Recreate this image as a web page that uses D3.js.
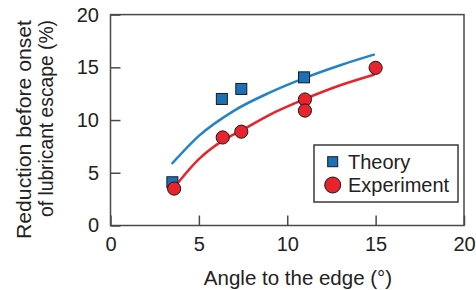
<!DOCTYPE html>
<html>
<head>
<meta charset="utf-8">
<script src="https://cdn.jsdelivr.net/npm/d3@7"></script>
<style>
  body { margin: 0; background: #fff; }
  text { font-family: "Liberation Sans", Arial, Helvetica, sans-serif; fill: #222; }
</style>
</head>
<body>
<div id="chart"></div>
<script>
"use strict";

// values
const xTicks = [0, 5, 10, 15, 20];
const yTicks = [0, 5, 10, 15, 20];

const theoryPts = [[3.5, 4.1], [6.3, 12.0], [7.4, 12.95], [10.95, 14.05]];
const experimentPts = [[3.6, 3.5], [6.35, 8.35], [7.4, 8.9], [11.0, 11.95], [11.0, 10.9], [15.0, 14.95]];

const theoryCurve = [[3.5, 5.9], [5, 8.5], [7, 10.9], [9, 12.6], [11, 14.0], [13, 15.2], [14.9, 16.2]];
const experimentCurve = [[3.6, 3.6], [5, 6.3], [6.4, 8.1], [7.4, 9.0], [9, 10.5], [11, 12.0], [13, 13.3], [14.9, 14.3]];

const legendItems = ["Theory", "Experiment"];

const width = 476;
const height = 290;
const margin = {top: 14.6, right: 12, bottom: 64.5, left: 110.5};

const blue = "#1b70b8";
const blueLine = "#2383c9";
const red = "#e8232b";

const x = d3.scaleLinear()
    .domain([0, 20])
    .range([margin.left, width - margin.right]);

const y = d3.scaleLinear()
    .domain([0, 20])
    .range([height - margin.bottom, margin.top]);

const svg = d3.select("#chart").append("svg")
    .attr("width", width)
    .attr("height", height);

// axes, ticks pointing inward
svg.append("g")
    .attr("transform", `translate(0,${y(0)})`)
    .call(d3.axisBottom(x).tickValues(xTicks).tickSizeInner(-10).tickSizeOuter(0).tickPadding(11))
    .call(g => g.select(".domain").remove())
    .call(g => g.selectAll("line").attr("stroke", "#4a4a4a").attr("stroke-width", 1.5))
    .call(g => g.selectAll("text").attr("font-size", 20).attr("font-family", null).attr("fill", "#222"));

svg.append("g")
    .attr("transform", `translate(${x(0)},0)`)
    .call(d3.axisLeft(y).tickValues(yTicks).tickSizeInner(-10).tickSizeOuter(0).tickPadding(11.5))
    .call(g => g.select(".domain").remove())
    .call(g => g.selectAll("line").attr("stroke", "#4a4a4a").attr("stroke-width", 1.5))
    .call(g => g.selectAll("text").attr("font-size", 20).attr("font-family", null).attr("fill", "#222"));

// frame
svg.append("rect")
    .attr("x", x(0))
    .attr("y", y(20))
    .attr("width", x(20) - x(0))
    .attr("height", y(0) - y(20))
    .attr("fill", "none")
    .attr("stroke", "#4a4a4a")
    .attr("stroke-width", 1.5);

// axis titles
svg.append("text")
    .attr("x", 298)
    .attr("y", 285)
    .attr("text-anchor", "middle")
    .attr("font-size", 20.5)
    .text("Angle to the edge (°)");

const yt = svg.append("g")
    .attr("transform", "translate(31,20) rotate(-90)");

yt.append("text")
    .attr("text-anchor", "end")
    .attr("font-size", 19.5)
    .attr("textLength", 219)
    .attr("lengthAdjust", "spacingAndGlyphs")
    .text("Reduction before onset");

yt.append("text")
    .attr("y", 22)
    .attr("text-anchor", "end")
    .attr("font-size", 19.5)
    .attr("textLength", 197)
    .attr("lengthAdjust", "spacingAndGlyphs")
    .text("of lubricant escape (%)");

// fitted curves
const line = d3.line()
    .x(d => x(d[0]))
    .y(d => y(d[1]))
    .curve(d3.curveMonotoneX);

svg.append("path")
    .datum(theoryCurve)
    .attr("fill", "none")
    .attr("stroke", blueLine)
    .attr("stroke-width", 2.5)
    .attr("stroke-linecap", "round")
    .attr("d", line);

svg.append("path")
    .datum(experimentCurve)
    .attr("fill", "none")
    .attr("stroke", red)
    .attr("stroke-width", 2.5)
    .attr("stroke-linecap", "round")
    .attr("d", line);

// markers
const sq = 11;

svg.append("g")
    .selectAll("rect")
    .data(theoryPts)
    .join("rect")
        .attr("x", d => x(d[0]) - sq / 2)
        .attr("y", d => y(d[1]) - sq / 2)
        .attr("width", sq)
        .attr("height", sq)
        .attr("fill", blue)
        .attr("stroke", "#1a1a1a")
        .attr("stroke-width", 1);

svg.append("g")
    .selectAll("circle")
    .data(experimentPts)
    .join("circle")
        .attr("cx", d => x(d[0]))
        .attr("cy", d => y(d[1]))
        .attr("r", 6.6)
        .attr("fill", red)
        .attr("stroke", "#1a1a1a")
        .attr("stroke-width", 1);

// legend
const lg = svg.append("g");

lg.append("rect")
    .attr("x", 314)
    .attr("y", 145)
    .attr("width", 144)
    .attr("height", 57)
    .attr("fill", "#fff")
    .attr("stroke", "#3a3a3a")
    .attr("stroke-width", 1.5);

lg.append("rect")
    .attr("x", 332.7 - 5)
    .attr("y", 161.7 - 5)
    .attr("width", 10)
    .attr("height", 10)
    .attr("fill", blue)
    .attr("stroke", "#1a1a1a")
    .attr("stroke-width", 1);

lg.append("circle")
    .attr("cx", 332.7)
    .attr("cy", 185)
    .attr("r", 8)
    .attr("fill", red)
    .attr("stroke", "#1a1a1a")
    .attr("stroke-width", 1);

lg.selectAll("text")
    .data(legendItems)
    .join("text")
        .attr("x", 348)
        .attr("y", (d, i) => 168.5 + i * 23.5)
        .attr("font-size", 20)
        .text(d => d);
</script>
</body>
</html>
